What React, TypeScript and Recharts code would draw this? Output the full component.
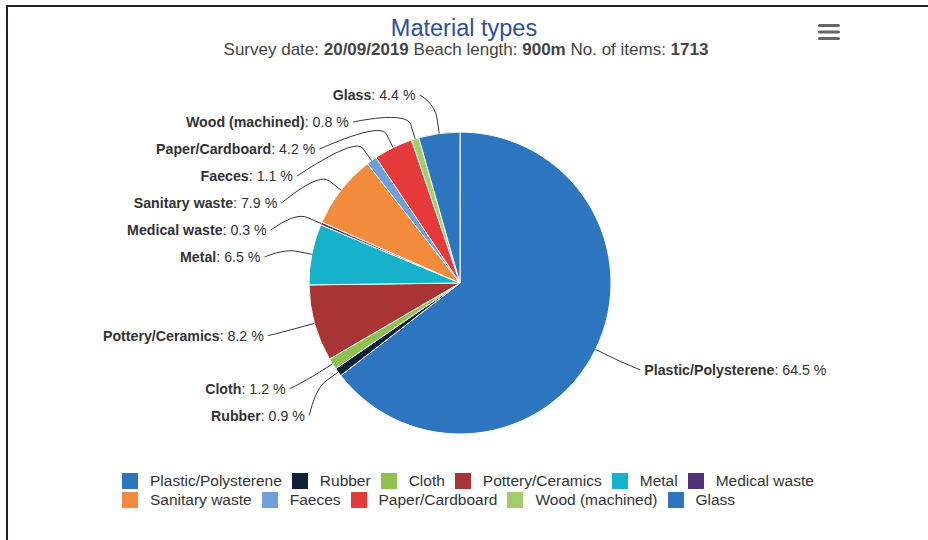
import { PieChart, Pie, Cell, Legend } from "recharts"

const names = [
  "Plastic/Polysterene",
  "Rubber",
  "Cloth",
  "Pottery/Ceramics",
  "Metal",
  "Medical waste",
  "Sanitary waste",
  "Faeces",
  "Paper/Cardboard",
  "Wood (machined)",
  "Glass",
]

const values = [64.5, 0.9, 1.2, 8.2, 6.5, 0.3, 7.9, 1.1, 4.2, 0.8, 4.4]

const COLORS = [
  "#2d75bf",
  "#0e2139",
  "#8dc150",
  "#a93434",
  "#16b2cc",
  "#532f73",
  "#f38b3c",
  "#6f9fdb",
  "#e63a3a",
  "#a2cd6a",
  "#2d75bf",
]

const data = names.map((name, i) => ({ name, value: values[i] }))

const FONT = '"Liberation Sans", Arial, Helvetica, sans-serif'
const CX = 460
const CY = 283
const R = 151
const LABEL_R = 197
const GAP = 27
const TOP = 95
const BOTTOM = 520

type LabelPos = { theta: number; left: boolean; y: number; ax: number }

// spread the labels on each side like Highcharts does
function layoutLabels(): LabelPos[] {
  const total = values.reduce((a, b) => a + b, 0)
  let acc = 0
  const items = values.map((v, i) => {
    const theta = ((acc + v / 2) / total) * 2 * Math.PI
    acc += v
    return { i, theta, left: Math.sin(theta) < 0, y: CY - LABEL_R * Math.cos(theta), ax: 0 }
  })
  for (const side of [true, false]) {
    const list = items.filter((it) => it.left === side).sort((a, b) => a.y - b.y)
    let prev = -Infinity
    for (const it of list) {
      it.y = Math.max(it.y, prev + GAP, TOP)
      prev = it.y
    }
    let next = Infinity
    for (let k = list.length - 1; k >= 0; k--) {
      list[k].y = Math.min(list[k].y, next - GAP, BOTTOM)
      next = list[k].y
    }
    for (const it of list) {
      const dy = it.y - 5 - CY
      const dx = Math.sqrt(Math.max(0, LABEL_R * LABEL_R - dy * dy))
      it.ax = side ? CX - dx : CX + dx
    }
  }
  return items
}

const labelPos = layoutLabels()

const polar = (theta: number, r: number) => [CX + r * Math.sin(theta), CY - r * Math.cos(theta)]

function renderLabel(props: any) {
  const p = labelPos[props.index]
  if (!p) return null
  const s = p.left ? -1 : 1
  const c2 = polar(p.theta, R + 30)
  const b = polar(p.theta, R + 15)
  const e = polar(p.theta, R)
  const d = `M${p.ax + s * 1},${p.y} C${p.ax},${p.y} ${c2[0]},${c2[1]} ${b[0]},${b[1]} L${e[0]},${e[1]}`
  return (
    <g key={`lbl-${props.index}`}>
      <path d={d} stroke="#333" strokeWidth={1} fill="none" />
      <text
        x={p.ax + s * 5}
        y={p.y}
        textAnchor={p.left ? "end" : "start"}
        dominantBaseline="central"
        fontSize={14.2}
        fontFamily={FONT}
        fill="#333"
      >
        <tspan fontWeight="bold">{names[props.index]}</tspan>
        <tspan>: {values[props.index].toFixed(1)} %</tspan>
      </text>
    </g>
  )
}

function renderLegend() {
  return (
    <div style={{ display: "flex", flexWrap: "wrap", fontFamily: FONT, fontSize: 15.5, color: "#333" }}>
      {names.map((n, i) => (
        <div key={n} style={{ display: "flex", alignItems: "center", height: 19, marginRight: 10 }}>
          <span style={{ width: 16, height: 16, background: COLORS[i], marginRight: 12 }} />
          <span>{n}</span>
        </div>
      ))}
    </div>
  )
}

export default function App() {
  return (
    <div style={{ position: "absolute", left: 0, top: 0, width: 928, height: 540, background: "#fff", fontFamily: FONT }}>
      <div style={{ position: "absolute", left: 6, top: 5, right: 0, bottom: 0, borderTop: "2px solid #2b2118", borderLeft: "2px solid #2b2118" }} />
      <div style={{ position: "absolute", left: 0, width: 928, top: 17, textAlign: "center", fontSize: 23.5, color: "#2d4e9c", lineHeight: "23px" }}>
        Material types
      </div>
      <div style={{ position: "absolute", left: 2, width: 928, top: 42, textAlign: "center", fontSize: 17, color: "#444", lineHeight: "15px" }}>
        Survey date: <b>20/09/2019</b> Beach length: <b>900m</b> No. of items: <b>1713</b>
      </div>
      <svg style={{ position: "absolute", left: 816, top: 22 }} width={26} height={20}>
        <rect x={2} y={2} width={22} height={3} rx={1.5} fill="#666" />
        <rect x={2} y={8.5} width={22} height={3} rx={1.5} fill="#666" />
        <rect x={2} y={15} width={22} height={3} rx={1.5} fill="#666" />
      </svg>
      <div style={{ position: "absolute", left: 0, top: 0 }}>
        <PieChart width={928} height={540} margin={{ top: 0, right: 0, bottom: 0, left: 0 }}>
          <Pie
            data={data}
            dataKey="value"
            nameKey="name"
            cx={CX}
            cy={CY}
            outerRadius={R}
            startAngle={90}
            endAngle={-270}
            stroke="#fff"
            strokeWidth={1}
            labelLine={false}
            label={renderLabel}
            isAnimationActive={false}
          >
            {data.map((_, index) => (
              <Cell key={`cell-${index}`} fill={COLORS[index]} />
            ))}
          </Pie>
          <Legend content={renderLegend} wrapperStyle={{ position: "absolute", left: 122, top: 471, width: 730, bottom: "auto" }} />
        </PieChart>
      </div>
    </div>
  )
}
